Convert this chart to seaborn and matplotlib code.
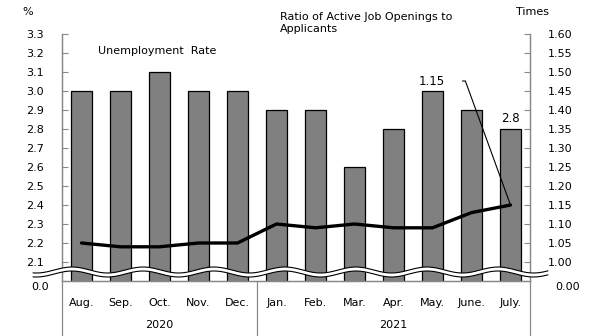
import numpy as np
import matplotlib
matplotlib.use("Agg")
import matplotlib.pyplot as plt
from matplotlib.lines import Line2D
from matplotlib.patches import Polygon
from matplotlib.transforms import blended_transform_factory
import seaborn as sns
import pandas as pd

months = ["Aug.", "Sep.", "Oct.", "Nov.", "Dec.", "Jan.", "Feb.", "Mar.",
          "Apr.", "May.", "June.", "July."]
years = ["2020", "2021"]
year_counts = [5, 7]
unemployment_rate = [3.0, 3.0, 3.1, 3.0, 3.0, 2.9, 2.9, 2.6, 2.8, 3.0, 2.9, 2.8]
job_ratio = [1.05, 1.04, 1.04, 1.05, 1.05, 1.10, 1.09, 1.10, 1.09, 1.09, 1.13, 1.15]

left_ticks = [2.1, 2.2, 2.3, 2.4, 2.5, 2.6, 2.7, 2.8, 2.9, 3.0, 3.1, 3.2, 3.3]
right_ticks = [1.00, 1.05, 1.10, 1.15, 1.20, 1.25, 1.30, 1.35, 1.40, 1.45, 1.50, 1.55, 1.60]

sns.set_theme(style="white")
plt.rcParams["font.family"] = ["DejaVu Sans"]
plt.rcParams["font.size"] = 8
plt.rcParams["text.color"] = "black"
plt.rcParams["xtick.color"] = "black"
plt.rcParams["ytick.color"] = "black"

W, H = 605, 336
fig = plt.figure(figsize=(W / 100, H / 100), dpi=100)

def fx(px):
    return px / W

def fy(py):
    return 1 - py / H

ax = fig.add_axes([fx(62), fy(281), fx(530) - fx(62), fy(34) - fy(281)])

df = pd.DataFrame({"month": months, "rate": unemployment_rate})
sns.barplot(data=df, x="month", y="rate", color="#808080", saturation=1,
            edgecolor="black", linewidth=0.9, width=0.54, ax=ax, zorder=2)
ax.set_ylim(2.0, 3.3)
ax.set_xlim(-0.5, len(months) - 0.5)
ax.set_yticks(left_ticks)
ax.set_yticklabels([f"{v:.1f}" for v in left_ticks])
ax.set_xlabel("")
ax.set_ylabel("")
ax.tick_params(axis="y", direction="in", length=4, width=0.8, color="#888888",
               labelcolor="black", pad=13, labelsize=8, left=True)
ax.tick_params(axis="x", length=0, pad=12, labelsize=8, labelcolor="black")

ax.spines["top"].set_visible(False)
for side in ["left", "right", "bottom"]:
    ax.spines[side].set_color("#888888")
    ax.spines[side].set_linewidth(0.9)

ax2 = ax.twinx()
sns.lineplot(x=np.arange(len(months)), y=job_ratio, ax=ax2, color="black",
             linewidth=2.4, zorder=3)
ax2.set_ylim(0.95, 1.60)
ax2.set_yticks(right_ticks)
ax2.set_yticklabels([f"{v:.2f}" for v in right_ticks])
ax2.tick_params(axis="y", direction="in", length=4, width=0.8, color="#888888",
                labelcolor="black", pad=13, labelsize=8, right=True)
ax2.spines["top"].set_visible(False)
for side in ["left", "right", "bottom"]:
    ax2.spines[side].set_color("#888888")
    ax2.spines[side].set_linewidth(0.9)

# value callouts
last = len(months) - 1
ax.annotate(f"{unemployment_rate[last]:.1f}", xy=(last, unemployment_rate[last]),
            xytext=(0, 3), textcoords="offset points", ha="center", va="bottom",
            fontsize=8.5)
ax2.annotate(f"{job_ratio[last]:.2f}", xy=(last, job_ratio[last]),
             xytext=(-79, 124), textcoords="offset pixels", ha="center",
             va="center", fontsize=8.5)
ax2.annotate("", xy=(last, job_ratio[last]), xytext=(-48, 124),
             textcoords="offset pixels",
             arrowprops=dict(arrowstyle="-", lw=0.8, color="black",
                             shrinkA=0, shrinkB=0,
                             connectionstyle="angle,angleA=0,angleB=110,rad=0"))

# category separators and year labels below the axis
trans = ax.get_xaxis_transform()
bounds = np.concatenate([[0], np.cumsum(year_counts)]) - 0.5
for b in bounds:
    ax.add_line(Line2D([b, b], [0, -0.25], transform=trans, color="#888888",
                       lw=0.9, clip_on=False))
year_trans = blended_transform_factory(ax.transData, fig.transFigure)
for i, yr in enumerate(years):
    mid = (bounds[i] + bounds[i + 1]) / 2
    ax.text(mid, fy(325), yr, transform=year_trans, ha="center", va="center",
            fontsize=8)

# axis break
xs = np.linspace(33, 548, 400)
upper = 270 - 3 * np.cos(2 * np.pi * (xs - 143) / 71)
lower = upper + 4
poly = np.column_stack([np.concatenate([xs, xs[::-1]]),
                        np.concatenate([upper, lower[::-1]])])
poly_fig = np.column_stack([fx(poly[:, 0]), fy(poly[:, 1])])
fig.add_artist(Polygon(poly_fig, closed=True, facecolor="white", edgecolor="none",
                       transform=fig.transFigure, zorder=10))
fig.add_artist(Line2D(fx(xs), fy(upper), transform=fig.transFigure, color="black",
                      lw=0.8, zorder=11))
fig.add_artist(Line2D(fx(xs), fy(lower), transform=fig.transFigure, color="black",
                      lw=0.8, zorder=11))

# axis base labels and titles
fig.text(fx(49), fy(287), "0.0", ha="right", va="center", fontsize=8)
fig.text(fx(555), fy(287), "0.00", ha="left", va="center", fontsize=8)
fig.text(fx(28), fy(12), "%", ha="center", va="center", fontsize=8)
fig.text(fx(533), fy(12), "Times", ha="center", va="center", fontsize=8)
fig.text(fx(98), fy(51), "Unemployment  Rate", ha="left", va="center", fontsize=8)
fig.text(fx(280), fy(23), "Ratio of Active Job Openings to\nApplicants",
         ha="left", va="center", fontsize=8, linespacing=1.35)

fig.savefig("out.png", dpi=100)
